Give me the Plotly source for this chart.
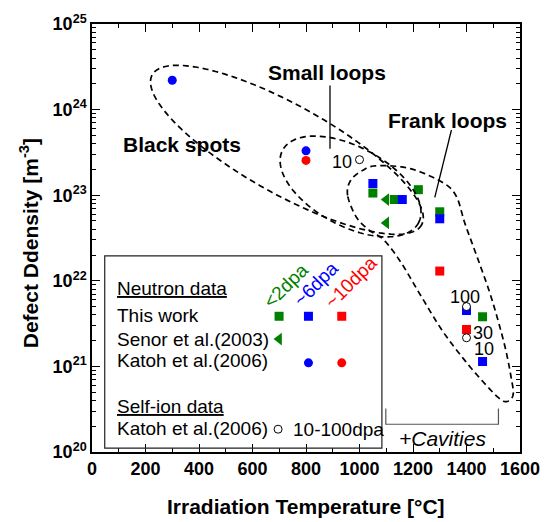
import math
import numpy as np
import plotly.graph_objects as go

# ---------------- data ----------------
# This work (neutron), squares
green_sq_x = [1050, 1130, 1220, 1300, 1460]
green_sq_y = [1.06e23, 8.9e22, 1.16e23, 6.4e22, 3.8e21]
blue_sq_x = [1050, 1160, 1300, 1400, 1460]
blue_sq_y = [1.37e23, 8.9e22, 5.3e22, 4.5e21, 1.14e21]
red_sq_x = [1300, 1400]
red_sq_y = [1.3e22, 2.7e21]
# Senor et al. (2003), <2dpa, triangles
senor_x = [1100, 1100]
senor_y = [8.9e22, 4.75e22]
# Katoh et al. (2006) neutron, circles
katoh_blue_x = [300, 800]
katoh_blue_y = [2.2e24, 3.3e23]
katoh_red_x = [800]
katoh_red_y = [2.55e23]
# Katoh et al. (2006) self-ion, open circles
ion_x = [1000, 1400, 1400]
ion_y = [2.6e23, 5.0e21, 2.16e21]
ion_dpa = ["10", "100", "30"]

x_tick_vals = [0, 200, 400, 600, 800, 1000, 1200, 1400, 1600]
y_tick_exps = [20, 21, 22, 23, 24, 25]

GREEN = "#008000"
BLUE = "#0000ff"
RED = "#ff0000"
FONT = "Liberation Sans, Arial, Helvetica, sans-serif"

# ---------------- geometry ----------------
W, H = 552, 522
L, R, T, B = 92, 529, 20, 452


def P(px, py):
    return ((px - L) / (R - L), (B - py) / (B - T))


def path_from(pts, close=True):
    s = ""
    for i, (px, py) in enumerate(pts):
        x, y = P(px, py)
        s += ("M" if i == 0 else "L") + f"{x:.5f},{y:.5f} "
    if close:
        s += "Z"
    return s


def ellipse_pts(cx, cy, a, b, ang, n=160):
    th = math.radians(ang)
    out = []
    for t in np.linspace(0, 2 * math.pi, n, endpoint=False):
        px = cx + a * math.cos(t) * math.cos(th) - b * math.sin(t) * math.sin(th)
        py = cy + a * math.cos(t) * math.sin(th) + b * math.sin(t) * math.cos(th)
        out.append((px, py))
    return out


def catmull_closed(pts, k=12):
    out = []
    n = len(pts)
    for i in range(n):
        p0, p1, p2, p3 = pts[i - 1], pts[i], pts[(i + 1) % n], pts[(i + 2) % n]
        for s in range(k):
            t = s / k
            t2, t3 = t * t, t * t * t
            x = 0.5 * ((2 * p1[0]) + (-p0[0] + p2[0]) * t + (2 * p0[0] - 5 * p1[0] + 4 * p2[0] - p3[0]) * t2 + (-p0[0] + 3 * p1[0] - 3 * p2[0] + p3[0]) * t3)
            y = 0.5 * ((2 * p1[1]) + (-p0[1] + p2[1]) * t + (2 * p0[1] - 5 * p1[1] + 4 * p2[1] - p3[1]) * t2 + (-p0[1] + 3 * p1[1] - 3 * p2[1] + p3[1]) * t3)
            out.append((x, y))
    return out


fig = go.Figure()

# ---------------- data traces ----------------
sq = dict(symbol="square", size=9)
fig.add_trace(go.Scatter(x=green_sq_x, y=green_sq_y, mode="markers",
                         marker=dict(color=GREEN, **sq), showlegend=False))
fig.add_trace(go.Scatter(x=blue_sq_x, y=blue_sq_y, mode="markers",
                         marker=dict(color=BLUE, **sq), showlegend=False))
fig.add_trace(go.Scatter(x=red_sq_x, y=red_sq_y, mode="markers",
                         marker=dict(color=RED, **sq), showlegend=False))
fig.add_trace(go.Scatter(x=senor_x, y=senor_y, mode="markers",
                         marker=dict(color=GREEN, symbol="triangle-left", size=11),
                         showlegend=False))
fig.add_trace(go.Scatter(x=katoh_blue_x, y=katoh_blue_y, mode="markers",
                         marker=dict(color=BLUE, symbol="circle", size=9), showlegend=False))
fig.add_trace(go.Scatter(x=katoh_red_x, y=katoh_red_y, mode="markers",
                         marker=dict(color=RED, symbol="circle", size=9), showlegend=False))
fig.add_trace(go.Scatter(x=ion_x, y=ion_y, mode="markers",
                         marker=dict(color="white", symbol="circle", size=8,
                                     line=dict(color="black", width=1)),
                         showlegend=False))

# ---------------- legend box content (overlay axis in paper units) ----------------
leg_markers = [
    ((283, 315), GREEN, "square", 9, None),
    ((313, 315), BLUE, "square", 9, None),
    ((347, 315), RED, "square", 9, None),
    ((283, 338), GREEN, "triangle-left", 11, None),
    ((313, 362), BLUE, "circle", 9, None),
    ((347, 362), RED, "circle", 9, None),
    ((282, 429), "white", "circle", 8, "black"),
]
for (px, py), col, sym, sz, lc in leg_markers:
    x, y = P(px, py)
    mk = dict(color=col, symbol=sym, size=sz)
    if lc:
        mk["line"] = dict(color=lc, width=1)
    fig.add_trace(go.Scatter(x=[x], y=[y], xaxis="x2", yaxis="y2", mode="markers",
                             marker=mk, showlegend=False, cliponaxis=False))

# ---------------- shapes ----------------
shapes = []
dash_line = dict(color="black", width=1.7, dash="6px,4px")
# Black spots
shapes.append(dict(type="path", xref="paper", yref="paper",
                   path=path_from(ellipse_pts(291, 147, 157, 45, 28.8)), line=dash_line))
# Small loops
shapes.append(dict(type="path", xref="paper", yref="paper",
                   path=path_from(ellipse_pts(356, 184, 78.5, 40, 27.7)), line=dash_line))
# Frank loops
frank_outline = [(353, 193), (356, 178), (368, 168), (383, 163), (417, 166), (450, 180),
                 (464, 194), (473, 222), (487, 260), (500, 297), (513, 343), (520, 377),
                 (522, 394), (516, 401), (508, 398), (493, 383), (473, 360), (450, 330),
                 (427, 293), (407, 260), (390, 238), (375, 228), (362, 215)]
shapes.append(dict(type="path", xref="paper", yref="paper",
                   path=path_from(catmull_closed(frank_outline)), line=dash_line))
# pointer lines
shapes.append(dict(type="path", xref="paper", yref="paper",
                   path=path_from([(335, 82), (335, 146)], close=False),
                   line=dict(color="black", width=1.3)))
shapes.append(dict(type="path", xref="paper", yref="paper",
                   path=path_from([(459, 127), (442, 195)], close=False),
                   line=dict(color="black", width=1.3)))
# cavities bracket
shapes.append(dict(type="path", xref="paper", yref="paper",
                   path=path_from([(392, 408), (392, 424), (507, 424), (507, 408)], close=False),
                   line=dict(color="#555555", width=1.2)))
# legend box
x0, y0 = P(105, 448)
x1, y1 = P(388, 254)
shapes.append(dict(type="rect", xref="paper", yref="paper", x0=x0, y0=y0, x1=x1, y1=y1,
                   line=dict(color="#222222", width=1.2), fillcolor="rgba(0,0,0,0)"))

# ---------------- annotations ----------------
ann = []


def text_at(px, py, txt, size=19, color="black", bold=False, italic=False,
            xanchor="center", angle=0):
    x, y = P(px, py)
    ann.append(dict(x=x, y=y, xref="paper", yref="paper", text=txt, showarrow=False,
                    xanchor=xanchor, yanchor="middle", textangle=angle,
                    font=dict(family=FONT, size=size, color=color,
                              weight="bold" if bold else "normal",
                              style="italic" if italic else "normal")))


text_at(332, 69, "Small loops", size=21, bold=True)
text_at(455, 117, "Frank loops", size=21, bold=True)
text_at(184, 142, "Black spots", size=21, bold=True)
text_at(450, 438, "+Cavities", size=21, italic=True)

# self-ion dpa labels attached to the points
ion_shifts = [(-18, -2), (-2, 10), (16, 5)]
for xv, yv, lab, (dx, dy) in zip(ion_x, ion_y, ion_dpa, ion_shifts):
    ann.append(dict(x=xv, y=math.log10(yv), xref="x", yref="y", text=lab, showarrow=False,
                    xshift=dx, yshift=dy, xanchor="center", yanchor="middle",
                    font=dict(family=FONT, size=18, color="black")))
text_at(492, 348, "10", size=18)

# legend texts
text_at(115, 287, "<u>Neutron data</u>", xanchor="left")
text_at(115, 314, "This work", xanchor="left")
text_at(115, 338, "Senor et al.(2003)", xanchor="left")
text_at(115, 360, "Katoh et al.(2006)", xanchor="left")
text_at(115, 406, "<u>Self-ion data</u>", xanchor="left")
text_at(115, 428, "Katoh et al.(2006)", xanchor="left")
text_at(295, 429, "10-100dpa", xanchor="left")
text_at(290, 284, "&lt;2dpa", color=GREEN, angle=-45)
text_at(321, 282, "~6dpa", color=BLUE, angle=-45)
text_at(356, 281, "~10dpa", color=RED, angle=-45)

# axis titles
text_at(310, 507, "Irradiation Temperature [°C]", size=21, bold=True)
text_at(28, 241, "Defect Ddensity [m<sup>-3</sup>]", size=21, bold=True, angle=-90)

# ---------------- layout ----------------
y_minor = [k * 10.0 ** e for e in y_tick_exps[:-1] for k in range(2, 10)]
fig.update_layout(
    width=W, height=H,
    margin=dict(l=L, r=W - R, t=T, b=H - B, pad=0),
    paper_bgcolor="white", plot_bgcolor="white",
    showlegend=False,
    font=dict(family=FONT, color="black"),
    shapes=shapes, annotations=ann,
    xaxis=dict(range=[0, 1600], tickmode="array", tickvals=x_tick_vals,
               ticks="inside", ticklen=8, tickwidth=1.2, tickcolor="black",
               showline=True, linecolor="black", linewidth=1.5, mirror="ticks",
               showgrid=False, zeroline=False,
               tickfont=dict(family=FONT, size=18, weight="bold", color="black"),
               minor=dict(dtick=100, ticks="inside", ticklen=4, tickwidth=1,
                          tickcolor="black", showgrid=False)),
    yaxis=dict(type="log", range=[20, 25], tickmode="array",
               tickvals=[10.0 ** e for e in y_tick_exps],
               ticktext=[f"10<sup>{e}</sup>" for e in y_tick_exps],
               ticks="inside", ticklen=8, tickwidth=1.2, tickcolor="black",
               showline=True, linecolor="black", linewidth=1.5, mirror="ticks",
               showgrid=False, zeroline=False,
               tickfont=dict(family=FONT, size=18, weight="bold", color="black"),
               minor=dict(tickmode="array", tickvals=y_minor, ticks="inside", ticklen=4,
                          tickwidth=1, tickcolor="black", showgrid=False)),
    xaxis2=dict(overlaying="x", range=[0, 1], visible=False, fixedrange=True),
    yaxis2=dict(overlaying="y", range=[0, 1], visible=False, fixedrange=True),
)

fig.write_html("out.html",
               config={"displayModeBar": False, "displaylogo": False},
               post_script="document.body.style.margin='0';document.body.style.padding='0';")
